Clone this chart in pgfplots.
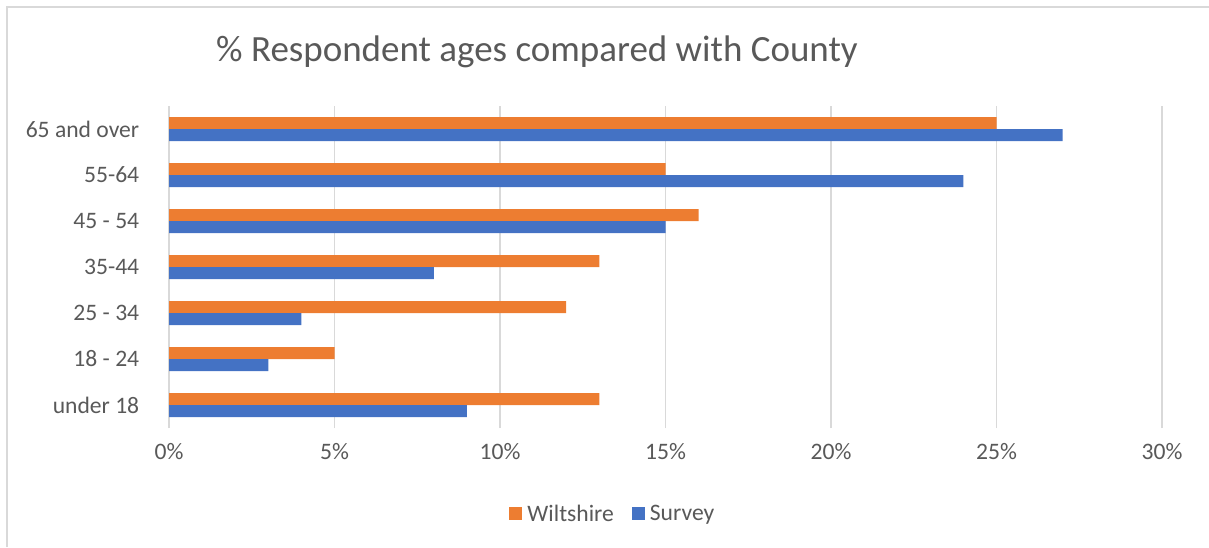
\documentclass[border=0pt]{standalone}
\usepackage{pgfplots}
\pgfplotsset{compat=1.18}
\usepackage{fontspec}
\setmainfont{Carlito}
\definecolor{wilt}{HTML}{ED7D31}
\definecolor{surv}{HTML}{4472C4}
\definecolor{txt}{HTML}{595959}
\definecolor{grd}{HTML}{D9D9D9}
\begin{document}
\begin{tikzpicture}[x=1pt,y=1pt]
\path[use as bounding box] (0,0) rectangle (1209,547);
\draw[grd, line width=1.5pt] (7,0) -- (7,540) -- (1209,540);
\node[txt, font=\fontsize{37}{44}\selectfont, anchor=base] at (537,485) {\% Respondent ages compared with County};
\begin{axis}[
  at={(169pt,119pt)}, anchor=south west,
  scale only axis, width=993pt, height=322pt,
  xbar, bar width=12pt,
  xmin=0, xmax=30, ymin=-0.5, ymax=6.5,
  xtick={0,5,10,15,20,25,30},
  xticklabel={\pgfmathprintnumber{\tick}\%},
  /pgf/number format/assume math mode=true,
  ytick={0,1,2,3,4,5,6},
  yticklabels={under 18,18 - 24,25 - 34,35-44,45 - 54,55-64,65 and over},
  tick label style={font=\fontsize{23.6}{28}\selectfont, text=txt},
  xticklabel style={yshift=-12pt},
  yticklabel style={xshift=-22pt},
  xmajorgrids, grid style={grd, line width=1.5pt},
  axis line style={draw=none},
  major tick style={draw=none},
  legend style={at={(0.447,-0.267)}, anchor=center, draw=none, font=\fontsize{23.6}{28}\selectfont, text=txt, legend columns=2,
    /tikz/every odd column/.append style={column sep=3pt},
    /tikz/every even column/.append style={column sep=16pt}},
  legend image code/.code={\fill[#1] (0pt,-6.5pt) rectangle (13pt,6.5pt);},
]
\addplot[fill=wilt, draw=none, bar shift=6pt] coordinates {(13,0) (5,1) (12,2) (13,3) (16,4) (15,5) (25,6)};
\addplot[fill=surv, draw=none, bar shift=-6pt] coordinates {(9,0) (3,1) (4,2) (8,3) (15,4) (24,5) (27,6)};
\legend{Wiltshire,Survey}
\end{axis}
\end{tikzpicture}
\end{document}
